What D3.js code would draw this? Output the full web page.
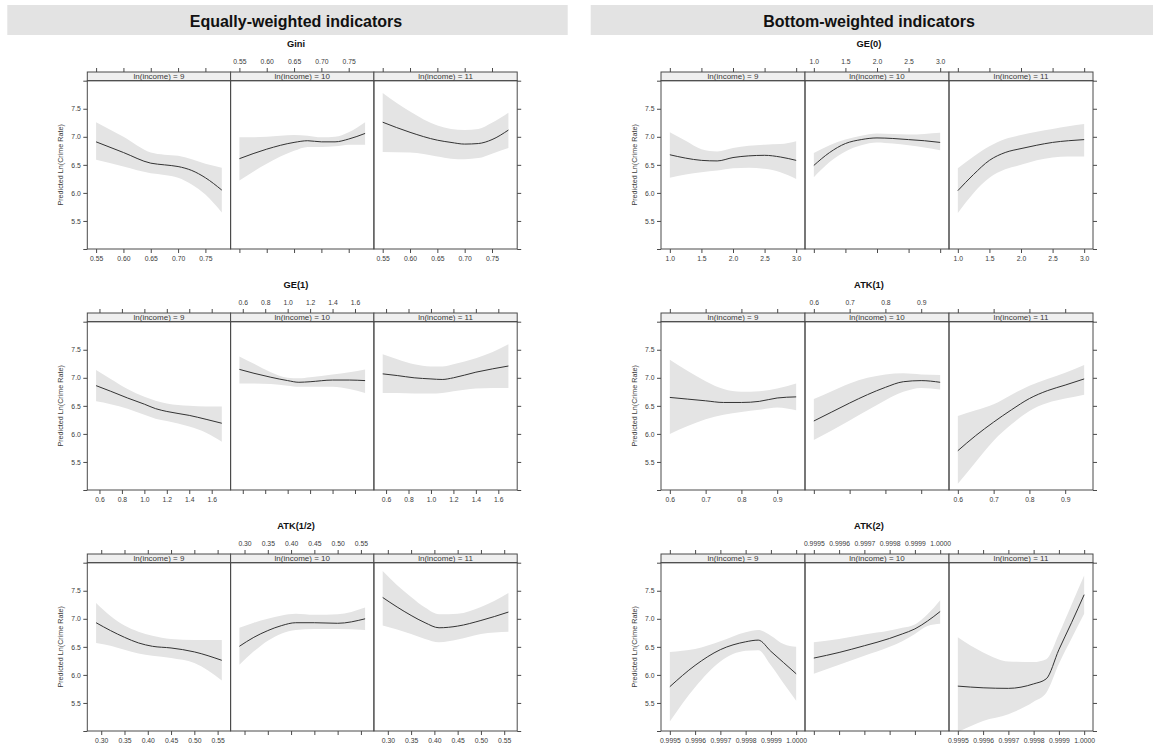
<!DOCTYPE html>
<html>
<head>
<meta charset="utf-8">
<script src="https://cdn.jsdelivr.net/npm/d3@7"></script>
<style>
  body { margin: 0; background: #fff; }
  svg { display: block; font-family: "Liberation Sans", Arial, Helvetica, sans-serif; }
</style>
</head>
<body>
<svg id="chart" width="1153" height="747"></svg>
<script>
// ---- conditioning levels and shared y axis ----
const incomeLevels = [9, 10, 11];
const yLimits = [5.0, 8.0];
const yTicks = [5.0, 5.5, 6.0, 6.5, 7.0, 7.5, 8.0];
const groupTitles = ["Equally-weighted indicators", "Bottom-weighted indicators"];

// ---- Gini ----
const giniX = [0.55, 0.60, 0.65, 0.675, 0.70, 0.725, 0.75, 0.78];
const giniTicks = [0.55, 0.60, 0.65, 0.70, 0.75];
const giniFit = [
  [6.91, 6.72, 6.53, 6.50, 6.47, 6.40, 6.27, 6.05],
  [6.61, 6.78, 6.90, 6.93, 6.91, 6.91, 6.96, 7.06],
  [7.26, 7.08, 6.94, 6.90, 6.87, 6.88, 6.95, 7.12]
];
const giniLower = [
  [6.59, 6.47, 6.35, 6.32, 6.27, 6.15, 5.97, 5.65],
  [6.22, 6.52, 6.75, 6.82, 6.82, 6.83, 6.86, 6.86],
  [6.73, 6.72, 6.65, 6.61, 6.60, 6.62, 6.70, 6.80]
];
const giniUpper = [
  [7.26, 7.00, 6.72, 6.68, 6.66, 6.60, 6.52, 6.45],
  [6.99, 7.00, 7.03, 7.02, 6.99, 7.00, 7.08, 7.26],
  [7.78, 7.45, 7.20, 7.14, 7.12, 7.14, 7.25, 7.43]
];

// ---- GE(1) ----
const ge1X = [0.57, 0.70, 0.85, 1.0, 1.1, 1.2, 1.4, 1.55, 1.69];
const ge1Ticks = [0.6, 0.8, 1.0, 1.2, 1.4, 1.6];
const ge1Fit = [
  [6.86, 6.76, 6.64, 6.53, 6.45, 6.40, 6.33, 6.26, 6.19],
  [7.15, 7.08, 7.01, 6.95, 6.92, 6.93, 6.96, 6.96, 6.95],
  [7.07, 7.04, 7.00, 6.98, 6.97, 7.00, 7.10, 7.16, 7.21]
];
const ge1Lower = [
  [6.58, 6.53, 6.45, 6.34, 6.27, 6.23, 6.13, 6.02, 5.86],
  [6.90, 6.90, 6.89, 6.86, 6.84, 6.84, 6.84, 6.80, 6.73],
  [6.73, 6.73, 6.72, 6.72, 6.73, 6.76, 6.81, 6.82, 6.82]
];
const ge1Upper = [
  [7.14, 6.98, 6.80, 6.66, 6.59, 6.54, 6.50, 6.49, 6.49],
  [7.38, 7.25, 7.10, 7.00, 6.99, 7.01, 7.06, 7.10, 7.15],
  [7.42, 7.33, 7.24, 7.20, 7.20, 7.24, 7.35, 7.46, 7.60]
];

// ---- ATK(1/2) ----
const atkHalfX = [0.289, 0.32, 0.35, 0.38, 0.41, 0.45, 0.50, 0.559];
const atkHalfTicks = [0.30, 0.35, 0.40, 0.45, 0.50, 0.55];
const atkHalfFit = [
  [6.93, 6.79, 6.67, 6.57, 6.51, 6.48, 6.41, 6.26],
  [6.51, 6.67, 6.79, 6.88, 6.93, 6.93, 6.92, 7.00],
  [7.38, 7.21, 7.06, 6.93, 6.84, 6.87, 6.97, 7.12]
];
const atkHalfLower = [
  [6.57, 6.52, 6.45, 6.38, 6.34, 6.30, 6.21, 5.90],
  [6.18, 6.42, 6.61, 6.74, 6.80, 6.82, 6.82, 6.80],
  [6.88, 6.81, 6.73, 6.64, 6.58, 6.63, 6.73, 6.77]
];
const atkHalfUpper = [
  [7.28, 7.05, 6.88, 6.77, 6.70, 6.64, 6.62, 6.62],
  [6.84, 6.93, 7.00, 7.06, 7.09, 7.07, 7.08, 7.20],
  [7.85, 7.60, 7.39, 7.20, 7.08, 7.09, 7.21, 7.46]
];

// ---- GE(0) ----
const ge0X = [1.0, 1.25, 1.5, 1.75, 2.0, 2.25, 2.5, 2.75, 3.0];
const ge0Ticks = [1.0, 1.5, 2.0, 2.5, 3.0];
const ge0Fit = [
  [6.68, 6.62, 6.58, 6.57, 6.63, 6.66, 6.67, 6.64, 6.58],
  [6.49, 6.72, 6.88, 6.95, 6.98, 6.97, 6.95, 6.93, 6.90],
  [6.04, 6.33, 6.58, 6.72, 6.79, 6.85, 6.90, 6.93, 6.95]
];
const ge0Lower = [
  [6.27, 6.33, 6.37, 6.40, 6.44, 6.45, 6.43, 6.37, 6.25],
  [6.28, 6.55, 6.74, 6.85, 6.90, 6.88, 6.85, 6.81, 6.76],
  [5.64, 6.00, 6.27, 6.42, 6.50, 6.58, 6.63, 6.65, 6.65]
];
const ge0Upper = [
  [7.08, 6.93, 6.78, 6.74, 6.80, 6.84, 6.86, 6.87, 6.92],
  [6.71, 6.85, 6.95, 7.02, 7.06, 7.05, 7.04, 7.05, 7.07],
  [6.44, 6.65, 6.83, 6.96, 7.03, 7.09, 7.14, 7.19, 7.23]
];

// ---- ATK(1) ----
const atk1X = [0.60, 0.65, 0.70, 0.75, 0.80, 0.85, 0.90, 0.953];
const atk1Ticks = [0.6, 0.7, 0.8, 0.9];
const atk1Fit = [
  [6.65, 6.62, 6.59, 6.56, 6.56, 6.58, 6.64, 6.66],
  [6.23, 6.39, 6.55, 6.70, 6.83, 6.93, 6.95, 6.92],
  [5.70, 5.97, 6.21, 6.43, 6.63, 6.77, 6.87, 6.98]
];
const atk1Lower = [
  [6.00, 6.14, 6.26, 6.34, 6.39, 6.43, 6.47, 6.42],
  [5.89, 6.06, 6.24, 6.42, 6.60, 6.75, 6.82, 6.79],
  [5.11, 5.50, 5.88, 6.17, 6.41, 6.55, 6.63, 6.70]
];
const atk1Upper = [
  [7.32, 7.12, 6.94, 6.80, 6.75, 6.76, 6.81, 6.90],
  [6.62, 6.76, 6.90, 7.00, 7.06, 7.08, 7.06, 7.05],
  [6.32, 6.42, 6.53, 6.70, 6.86, 6.98, 7.09, 7.23]
];

// ---- ATK(2) ----
const atk2X = [0.99950, 0.99960, 0.99970, 0.99980, 0.99985, 0.99990, 0.99995, 1.00000];
const atk2Ticks = [0.9995, 0.9996, 0.9997, 0.9998, 0.9999, 1.0000];
const atk2Fit = [
  [5.79, 6.17, 6.45, 6.59, 6.62, 6.42, 6.22, 6.02],
  [6.30, 6.40, 6.52, 6.65, 6.73, 6.82, 6.96, 7.13],
  [5.80, 5.77, 5.76, 5.84, 5.93, 6.45, 6.93, 7.43]
];
const atk2Lower = [
  [5.17, 5.78, 6.24, 6.43, 6.44, 6.17, 5.85, 5.54],
  [6.02, 6.18, 6.34, 6.50, 6.60, 6.73, 6.87, 6.91],
  [4.98, 5.18, 5.30, 5.52, 5.68, 6.20, 6.65, 7.09]
];
const atk2Upper = [
  [6.41, 6.46, 6.60, 6.76, 6.80, 6.70, 6.55, 6.50],
  [6.58, 6.64, 6.72, 6.79, 6.84, 6.90, 7.08, 7.33],
  [6.67, 6.40, 6.24, 6.23, 6.28, 6.73, 7.25, 7.77]
];

// indicator table: [group][row]
const indicators = [
  [
    { name: "Gini",     x: giniX,    ticks: giniTicks,    fmt: ".2f", fit: giniFit,    lo: giniLower,    hi: giniUpper },
    { name: "GE(1)",    x: ge1X,     ticks: ge1Ticks,     fmt: ".1f", fit: ge1Fit,     lo: ge1Lower,     hi: ge1Upper },
    { name: "ATK(1/2)", x: atkHalfX, ticks: atkHalfTicks, fmt: ".2f", fit: atkHalfFit, lo: atkHalfLower, hi: atkHalfUpper }
  ],
  [
    { name: "GE(0)",    x: ge0X,     ticks: ge0Ticks,     fmt: ".1f", fit: ge0Fit,     lo: ge0Lower,     hi: ge0Upper },
    { name: "ATK(1)",   x: atk1X,    ticks: atk1Ticks,    fmt: ".1f", fit: atk1Fit,    lo: atk1Lower,    hi: atk1Upper },
    { name: "ATK(2)",   x: atk2X,    ticks: atk2Ticks,    fmt: ".4f", fit: atk2Fit,    lo: atk2Lower,    hi: atk2Upper }
  ]
];

// ---- layout ----
const svg = d3.select("#chart");
const groupLayout = [
  { x0: 87.3, pw: 143.3, labelX: 60, bandX0: 7.3,   bandX1: 567.7, titleX: 296 },
  { x0: 661,  pw: 144,   labelX: 634, bandX0: 590.7, bandX1: 1153,  titleX: 869 }
];
const rowPitch = 241;
const firstStripTop = 72;
const stripH = 8.7;
const panelH = 168.3;
const padFrac = 0.07;

const ink = "#3a3a3a";
const frame = "#4a4a4a";
const bandFill = "#e4e4e4";
const stripFill = "#efefef";

groupLayout.forEach((g, gi) => {
  // section header
  svg.append("rect")
    .attr("x", g.bandX0).attr("y", 5)
    .attr("width", g.bandX1 - g.bandX0).attr("height", 30)
    .attr("fill", "#e3e3e3");
  svg.append("text")
    .attr("x", g.titleX).attr("y", 21)
    .attr("text-anchor", "middle").attr("dominant-baseline", "central")
    .attr("font-size", 16).attr("font-weight", "bold").attr("fill", "#111")
    .text(groupTitles[gi]);

  indicators[gi].forEach((ind, r) => {
    const stripTop = firstStripTop + r * rowPitch;
    const pTop = stripTop + stripH;
    const pBot = pTop + panelH;

    const y = d3.scaleLinear().domain(yLimits).range([pBot, pTop]);
    const ext = d3.extent(ind.x);
    const pad = (ext[1] - ext[0]) * padFrac;
    const xDom = [ext[0] - pad, ext[1] + pad];
    const fmt = d3.format(ind.fmt);

    // indicator title
    svg.append("text")
      .attr("x", g.titleX).attr("y", stripTop - 28)
      .attr("text-anchor", "middle").attr("dominant-baseline", "central")
      .attr("font-size", 9.3).attr("font-weight", "bold").attr("fill", "#111")
      .text(ind.name);

    // y axis title
    svg.append("text")
      .attr("transform", `translate(${g.labelX},${(pTop + pBot) / 2}) rotate(-90)`)
      .attr("text-anchor", "middle").attr("dominant-baseline", "central")
      .attr("font-size", 7.2).attr("fill", ink)
      .text("Predicted Ln(Crime Rate)");

    incomeLevels.forEach((lev, k) => {
      const px = g.x0 + k * g.pw;
      const x = d3.scaleLinear().domain(xDom).range([px, px + g.pw]);
      const clipId = `clip-${gi}-${r}-${k}`;
      svg.append("clipPath").attr("id", clipId)
        .append("rect").attr("x", px).attr("y", pTop).attr("width", g.pw).attr("height", pBot - pTop);

      const pts = ind.x.map((xv, i) => ({ x: xv, fit: ind.fit[k][i], lo: ind.lo[k][i], hi: ind.hi[k][i] }));
      const panel = svg.append("g").attr("clip-path", `url(#${clipId})`);

      panel.append("path")
        .datum(pts)
        .attr("fill", bandFill)
        .attr("d", d3.area().curve(d3.curveMonotoneX)
          .x(d => x(d.x)).y0(d => y(d.lo)).y1(d => y(d.hi)));

      panel.append("path")
        .datum(pts)
        .attr("fill", "none").attr("stroke", "#333").attr("stroke-width", 1)
        .attr("d", d3.line().curve(d3.curveMonotoneX).x(d => x(d.x)).y(d => y(d.fit)));

      // strip
      svg.append("rect")
        .attr("x", px).attr("y", stripTop).attr("width", g.pw).attr("height", stripH)
        .attr("fill", stripFill).attr("stroke", frame).attr("stroke-width", 1);
      svg.append("text")
        .attr("x", px + g.pw / 2).attr("y", stripTop + stripH / 2 + 0.3)
        .attr("text-anchor", "middle").attr("dominant-baseline", "central")
        .attr("font-size", 8).attr("fill", ink)
        .text(`ln(income) = ${lev}`);

      // panel frame
      svg.append("rect")
        .attr("x", px).attr("y", pTop).attr("width", g.pw).attr("height", pBot - pTop)
        .attr("fill", "none").attr("stroke", frame).attr("stroke-width", 1);

      // x axes: top labels on the middle panel, bottom labels on the outer panels
      const topAxis = d3.axisTop(x).tickValues(ind.ticks).tickSize(4).tickSizeOuter(0).tickPadding(3.9)
        .tickFormat(k === 1 ? fmt : () => "");
      const botAxis = d3.axisBottom(x).tickValues(ind.ticks).tickSize(4).tickSizeOuter(0).tickPadding(3.5)
        .tickFormat(k === 1 ? () => "" : fmt);
      [[topAxis, stripTop], [botAxis, pBot]].forEach(([ax, yy]) => {
        const ga = svg.append("g").attr("transform", `translate(0,${yy})`).call(ax);
        ga.select(".domain").remove();
        ga.selectAll("line").attr("stroke", frame);
        ga.selectAll("text").attr("font-size", 6.8).attr("fill", ink).attr("font-family", null);
      });
    });

    // y axes: labelled on the left, ticks only on the right
    const left = d3.axisLeft(y).tickValues(yTicks).tickSize(4).tickSizeOuter(0).tickPadding(2.5)
      .tickFormat(d => (d === yLimits[0] || d === yLimits[1]) ? "" : d3.format(".1f")(d));
    const right = d3.axisRight(y).tickValues(yTicks).tickSize(4).tickSizeOuter(0).tickFormat(() => "");
    [[left, g.x0], [right, g.x0 + 3 * g.pw]].forEach(([ax, xx]) => {
      const ga = svg.append("g").attr("transform", `translate(${xx},0)`).call(ax);
      ga.select(".domain").remove();
      ga.selectAll("line").attr("stroke", frame);
      ga.selectAll("text").attr("font-size", 6.8).attr("fill", ink).attr("font-family", null);
    });
  });
});
</script>
</body>
</html>
